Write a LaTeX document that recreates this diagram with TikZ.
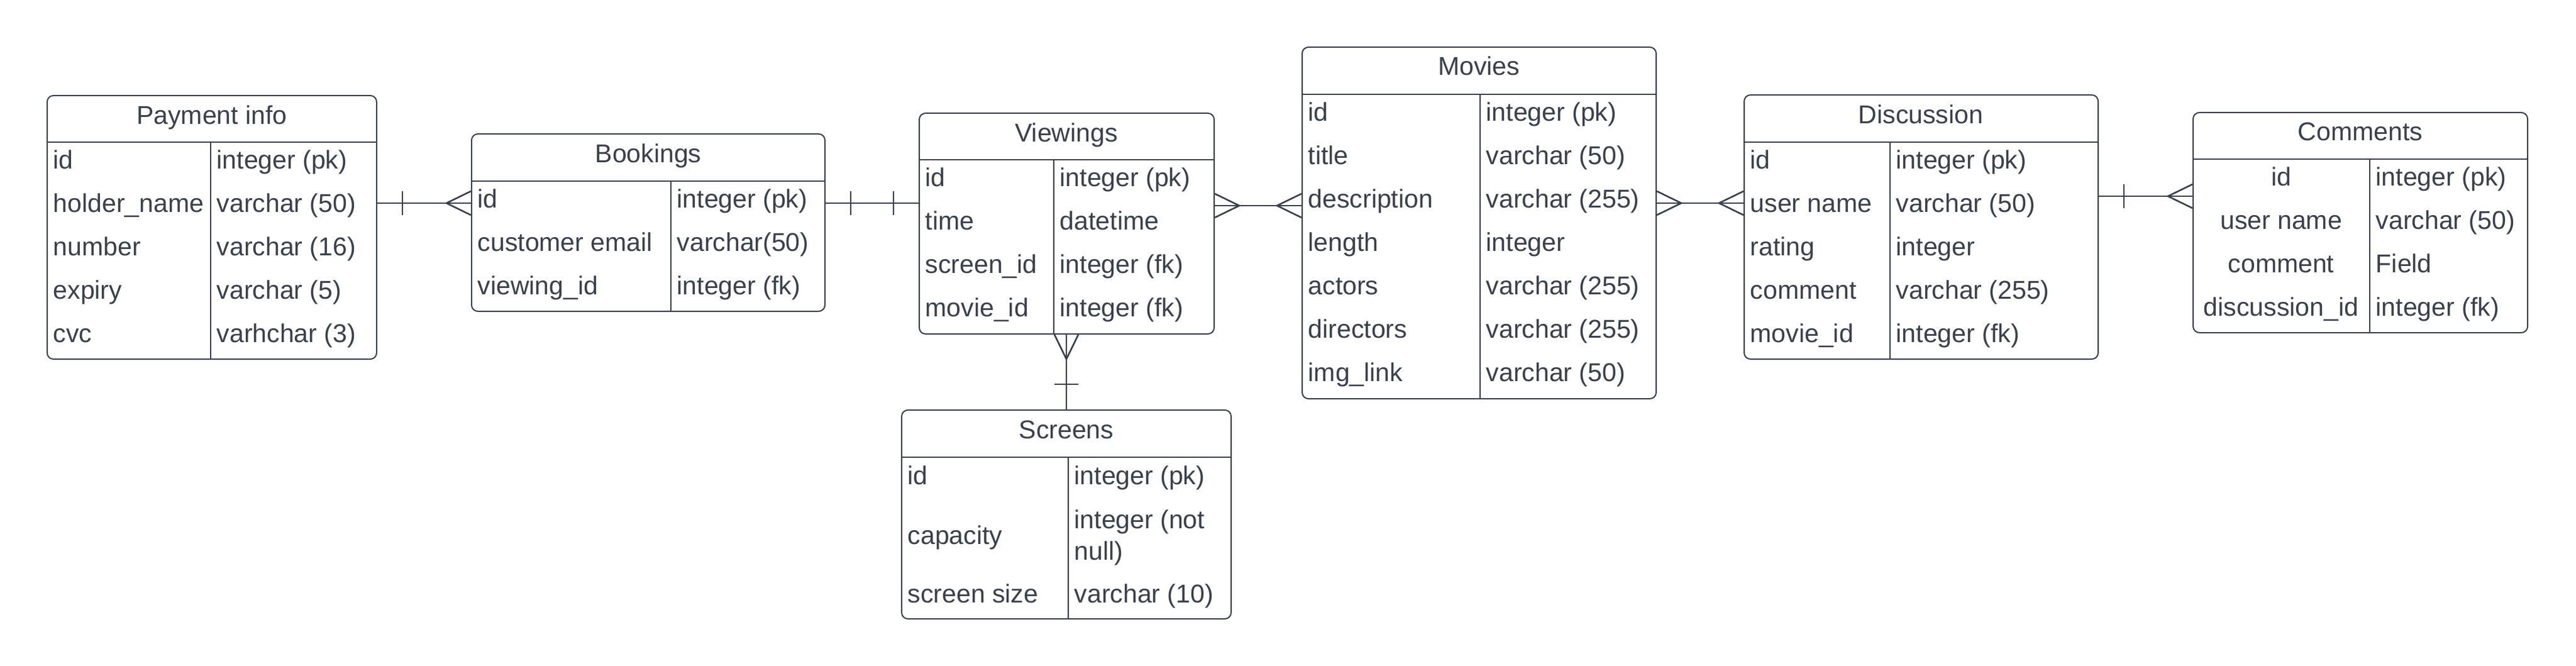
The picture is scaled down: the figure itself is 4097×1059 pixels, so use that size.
\documentclass[tikz,border=0pt]{standalone}
\usepackage{fontspec}
\setmainfont{Liberation Sans}
\usetikzlibrary{fit,positioning}
\definecolor{erdark}{HTML}{3A414A}

\begin{document}
\begin{tikzpicture}[x=0.25pt,y=-0.25pt,
  every node/.style={text=erdark, font=\fontsize{10.25}{12.4}\selectfont, inner sep=0},
  entity/.style={draw=erdark, line width=0.5pt, rounded corners=2.5pt},
  etitle/.style={anchor=base},
  field/.style={anchor=base west},
  headline/.style={draw=erdark, line width=0.6pt},
  divline/.style={draw=erdark, line width=0.3pt},
  erel/.style={draw=erdark, line width=0.65pt},
  ercrow/.pic={\draw[erel] (0pt,4.75pt) -- (-9.75pt,0pt) -- (0pt,-4.75pt);},
  erbar/.pic={\draw[erel] (-10pt,4.75pt) -- (-10pt,-4.75pt);}]
\fill[white] (0,0) rectangle (4097,1059);

% Payment info
\node[entity, fit={(75,152) (599,571)}] (pay) {};
\draw[headline] (75,226) -- (599,226);
\draw[divline] (335,226) -- (335,571);
\node[etitle] (pay-title) at (337,197) {Payment info};
\foreach \n/\t [count=\i] in {id/integer (pk), holder\_name/varchar (50), number/varchar (16), expiry/varchar (5), cvc/varhchar (3)}{
  \node[field] (pay-n\i) at (84,{226+69*\i-26.5}) {\n};
  \node[field] (pay-t\i) at (344,{226+69*\i-26.5}) {\t};
}

% Bookings
\node[entity, fit={(750,213) (1312,495)}] (book) {};
\draw[headline] (750,288) -- (1312,288);
\draw[divline] (1067,288) -- (1067,495);
\node[etitle] (book-title) at (1031,258) {Bookings};
\foreach \n/\t [count=\i] in {id/integer (pk), customer email/varchar(50), viewing\_id/integer (fk)}{
  \node[field] (book-n\i) at (759,{288+69*\i-26.5}) {\n};
  \node[field] (book-t\i) at (1076,{288+69*\i-26.5}) {\t};
}

% Viewings
\node[entity, fit={(1462,180) (1931,531)}] (view) {};
\draw[headline] (1462,254) -- (1931,254);
\draw[divline] (1676,254) -- (1676,531);
\node[etitle] (view-title) at (1696,225) {Viewings};
\foreach \n/\t [count=\i] in {id/integer (pk), time/datetime, screen\_id/integer (fk), movie\_id/integer (fk)}{
  \node[field] (view-n\i) at (1471,{254+69*\i-26.5}) {\n};
  \node[field] (view-t\i) at (1685,{254+69*\i-26.5}) {\t};
}

% Screens
\node[entity, fit={(1434,652) (1958,984)}] (screen) {};
\draw[headline] (1434,727) -- (1958,727);
\draw[divline] (1699,727) -- (1699,984);
\node[etitle] (screen-title) at (1696,697) {Screens};
\node[field] (screen-n1) at (1443,770) {id};
\node[field] (screen-t1) at (1708,770) {integer (pk)};
\node[field] (screen-n2) at (1443,865) {capacity};
\node[anchor=west, align=left] (screen-t2) at (1708,855) {integer (not\\null)};
\node[field] (screen-n3) at (1443,958) {screen size};
\node[field] (screen-t3) at (1708,958) {varchar (10)};

% Movies
\node[entity, fit={(2071,75) (2634,634)}] (movie) {};
\draw[headline] (2071,150) -- (2634,150);
\draw[divline] (2354,150) -- (2354,634);
\node[etitle] (movie-title) at (2352,120) {Movies};
\foreach \n/\t [count=\i] in {id/integer (pk), title/varchar (50), description/varchar (255), length/integer, actors/varchar (255), directors/varchar (255), img\_link/varchar (50)}{
  \node[field] (movie-n\i) at (2080,{150+69*\i-26.5}) {\n};
  \node[field] (movie-t\i) at (2363,{150+69*\i-26.5}) {\t};
}

% Discussion
\node[entity, fit={(2774,151) (3337,571)}] (disc) {};
\draw[headline] (2774,226) -- (3337,226);
\draw[divline] (3006,226) -- (3006,571);
\node[etitle] (disc-title) at (3055,196) {Discussion};
\foreach \n/\t [count=\i] in {id/integer (pk), user name/varchar (50), rating/integer, comment/varchar (255), movie\_id/integer (fk)}{
  \node[field] (disc-n\i) at (2783,{226+69*\i-26.5}) {\n};
  \node[field] (disc-t\i) at (3015,{226+69*\i-26.5}) {\t};
}

% Comments
\node[entity, fit={(3488,179) (4020,529)}] (comm) {};
\draw[headline] (3488,253) -- (4020,253);
\draw[divline] (3769,253) -- (3769,529);
\node[etitle] (comm-title) at (3754,224) {Comments};
\foreach \n/\t [count=\i] in {id/integer (pk), user name/varchar (50), comment/Field, discussion\_id/integer (fk)}{
  \node[etitle] (comm-n\i) at (3628,{253+69*\i-26.5}) {\n};
  \node[field] (comm-t\i) at (3778,{253+69*\i-26.5}) {\t};
}

% relations
\coordinate (pb-a) at (pay.east |- 0,323);
\coordinate (pb-b) at (book.west |- 0,323);
\draw[erel] (pb-a) -- (pb-b);
\pic[rotate=180] at (pb-a) {erbar};
\pic at (pb-b) {ercrow};

\coordinate (bv-a) at (book.east |- 0,323);
\coordinate (bv-b) at (view.west |- 0,323);
\draw[erel] (bv-a) -- (bv-b);
\pic[rotate=180] at (bv-a) {erbar};
\pic at (bv-b) {erbar};

\coordinate (vm-a) at (view.east |- 0,327);
\coordinate (vm-b) at (movie.west |- 0,327);
\draw[erel] (vm-a) -- (vm-b);
\pic[rotate=180] at (vm-a) {ercrow};
\pic at (vm-b) {ercrow};

\coordinate (md-a) at (movie.east |- 0,323);
\coordinate (md-b) at (disc.west |- 0,323);
\draw[erel] (md-a) -- (md-b);
\pic[rotate=180] at (md-a) {ercrow};
\pic at (md-b) {ercrow};

\coordinate (dc-a) at (disc.east |- 0,312);
\coordinate (dc-b) at (comm.west |- 0,312);
\draw[erel] (dc-a) -- (dc-b);
\pic[rotate=180] at (dc-a) {erbar};
\pic at (dc-b) {ercrow};

\coordinate (vs-a) at (view.south -| screen.north);
\draw[erel] (vs-a) -- (screen.north);
\pic[rotate=90] at (vs-a) {ercrow};
\pic[rotate=-90] at (screen.north) {erbar};
\end{tikzpicture}
\end{document}
